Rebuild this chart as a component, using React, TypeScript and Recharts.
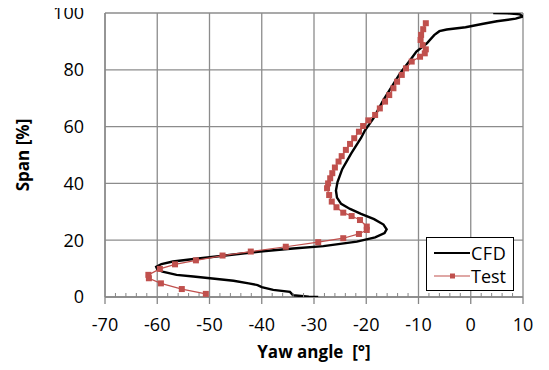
import {
  ScatterChart, Scatter, XAxis, YAxis, CartesianGrid, Legend,
} from "recharts";

const AXIS = "#868686";
const GRID = "#8c8c8c";
const RED = "#c0504d";
const FONT = "'Open Sans', 'Liberation Sans', sans-serif";

// axis ticks
const majorYaw = [-70, -60, -50, -40, -30, -20, -10, 0, 10];
const allYaw = Array.from({ length: 41 }, (_, i) => -70 + i * 2);
const spanTicks = [0, 20, 40, 60, 80, 100];

// CFD curve (bottom -> top)
const cfdYaw = [
  -29.2, -31, -34.0, -34.6, -37.8, -40.0, -40.8, -42.5, -45.4, -49.9, -53.1,
  -56.3, -59.0, -60.0, -60.2, -59.2, -57, -53, -47, -40.3, -34, -28.2, -21.8,
  -18.3, -16.5, -16.1, -16.7, -18.5, -21, -23.1, -24.8, -25.6, -25.8, -25.5,
  -24.6, -22.9, -21, -20.3, -18.6, -16.7, -13.5, -11.5, -10.4, -8.4, -7.0,
  -6.0, -4.6, -1, 2.4, 5.0, 8.6, 10, 9.4, 7, 4.3,
];
const cfdSpan = [
  0.0, 0.1, 0.6, 1.8, 2.5, 3.5, 4.2, 4.8, 5.7, 6.6, 7.2,
  7.8, 8.9, 9.7, 10.6, 11.6, 12.5, 13.4, 14.6, 16.0, 17.1, 17.9, 19.5,
  21.0, 22.5, 23.8, 25.5, 27.4, 29.3, 31.0, 32.8, 35.0, 37.5, 40.5,
  45, 50.5, 56, 58.5, 63, 69.4, 78.8, 83.6, 86.4, 89.3, 92.2,
  93.6, 94.2, 95.0, 96.2, 97.1, 98.0, 98.8, 99.5, 99.9, 100,
];

// measured test points (bottom -> top)
const testYaw = [
  -50.7, -55.3, -59.3, -61.6, -61.7, -59.5, -56.6, -52.6, -47.5, -42.1, -35.4,
  -29.2, -24.4, -21.4, -19.9, -19.9, -21.2, -22.8, -24.4, -25.7, -26.6, -27.1,
  -27.5, -27.3, -26.9, -26.5, -26.0, -25.3, -24.7, -23.9, -23.1, -22.3, -21.4,
  -20.6, -19.6, -18.3, -17.4, -16.4, -15.6, -14.8, -14.1, -13.2, -12.4, -11.3,
  -9.7, -8.8, -8.6, -9.2, -9.6, -9.5, -9.1, -8.6,
];
const testSpan = [
  1.1, 2.8, 4.8, 6.6, 7.8, 9.9, 11.5, 12.9, 14.6, 16.0, 17.7,
  19.3, 20.7, 22.2, 23.6, 24.8, 27.1, 28.5, 29.7, 31.6, 33.6, 35.9,
  38.3, 40.0, 41.8, 43.6, 45.6, 47.7, 49.6, 51.8, 53.9, 55.9, 58.2,
  60.2, 62.2, 64.1, 66.4, 68.8, 71.1, 73.5, 75.8, 78.2, 80.5, 82.9,
  84.6, 85.8, 87.2, 88.7, 90.5, 92.3, 94.3, 96.4,
];

const cfdData = cfdYaw.map((x, i) => ({ x, y: cfdSpan[i] }));
const testData = testYaw.map((x, i) => ({ x, y: testSpan[i] }));

// major ticks hang below the axis with a label, minor ones point up into the plot
function XTick({ x, y, payload }: any) {
  const v = payload.value;
  if (v % 10 === 0) {
    return (
      <g>
        <line x1={x} y1={y} x2={x} y2={y + 7} stroke={AXIS} strokeWidth={1.3} />
        <text x={x} y={y + 34} textAnchor="middle" fill="#000" fontSize={18}>{v}</text>
      </g>
    );
  }
  return <line x1={x} y1={y} x2={x} y2={y - 4} stroke={AXIS} strokeWidth={1} />;
}

function Square({ cx, cy }: any) {
  return <rect x={cx - 3} y={cy - 3} width={6} height={6} fill={RED} />;
}

function LegendBox() {
  return (
    <div style={{
      border: "1.5px solid #000", background: "#fff", width: 88, height: 54,
      fontFamily: FONT, fontSize: 18, boxSizing: "border-box", padding: "3px 0 0 7px",
    }}>
      <div style={{ display: "flex", alignItems: "center", height: 23 }}>
        <svg width={36} height={10}><line x1={0} y1={5} x2={36} y2={5} stroke="#000" strokeWidth={2.2} /></svg>
        <span style={{ marginLeft: 1, letterSpacing: 0.5 }}>CFD</span>
      </div>
      <div style={{ display: "flex", alignItems: "center", height: 23 }}>
        <svg width={36} height={10}>
          <line x1={0} y1={5} x2={36} y2={5} stroke={RED} strokeWidth={1.2} />
          <rect x={16} y={2.5} width={5} height={5} fill={RED} />
        </svg>
        <span style={{ marginLeft: 1 }}>Test</span>
      </div>
    </div>
  );
}

export default function App() {
  return (
    <div style={{ marginTop: -8 }}>
      <ScatterChart
        width={541}
        height={370}
        margin={{ top: 13, right: 26, bottom: 13, left: 0 }}
        style={{ fontFamily: FONT }}
      >
        <CartesianGrid xAxisId="grid" stroke={GRID} strokeWidth={1.3} horizontal vertical />
        <XAxis
          xAxisId="grid" type="number" dataKey="x" domain={[-70, 10]}
          ticks={majorYaw} hide allowDataOverflow
        />
        <XAxis
          type="number" dataKey="x" domain={[-70, 10]} ticks={allYaw} interval={0}
          tickSize={0} tickMargin={0} tickLine={false} tick={<XTick />}
          axisLine={{ stroke: AXIS, strokeWidth: 1.3 }} height={60} allowDataOverflow
          label={{ value: "Yaw angle\u00a0 [°]", position: "center", dy: 25, fill: "#000", fontWeight: "bold", fontSize: 17 }}
        />
        <YAxis
          type="number" dataKey="y" domain={[0, 100]} ticks={spanTicks} width={97}
          tickLine={false} tickSize={0} tickMargin={21}
          tick={{ fill: "#000", fontSize: 18 }}
          axisLine={{ stroke: AXIS, strokeWidth: 1.3 }} allowDataOverflow
          label={{ value: "Span [%]", angle: -90, position: "center", dx: -34, fill: "#000", fontWeight: "bold", fontSize: 17 }}
        />
        <Legend
          layout="horizontal" verticalAlign="middle" align="center"
          content={<LegendBox />}
          wrapperStyle={{ left: 418, top: 237, width: 88, height: 54 }}
        />
        <Scatter
          name="CFD" data={cfdData} line={{ stroke: "#000", strokeWidth: 2.4 }}
          lineType="joint" shape={() => <g />} isAnimationActive={false}
        />
        <Scatter
          name="Test" data={testData} line={{ stroke: RED, strokeWidth: 1.2 }}
          lineType="joint" shape={<Square />} isAnimationActive={false}
        />
      </ScatterChart>
    </div>
  );
}
